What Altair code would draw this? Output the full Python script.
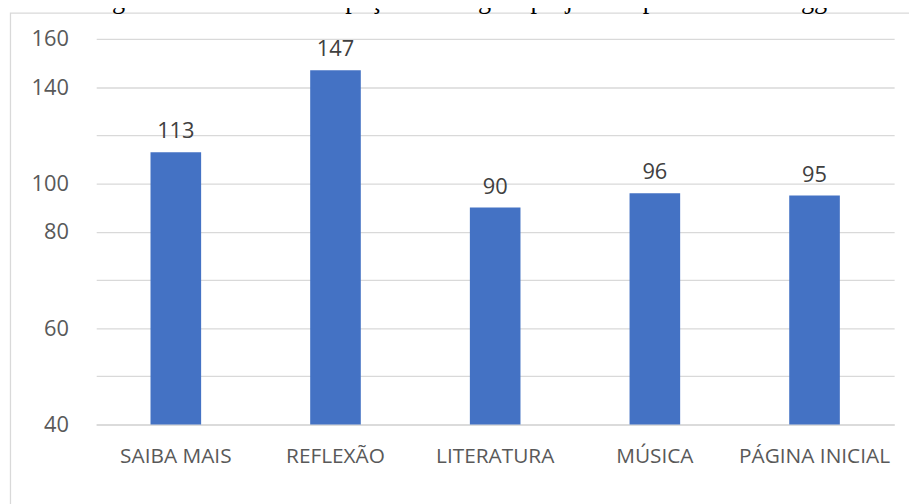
import altair as alt
import pandas as pd

categories = ["SAIBA MAIS", "REFLEXÃO", "LITERATURA", "MÚSICA", "PÁGINA INICIAL"]
values = [113, 147, 90, 96, 95]
tick_values = [0, 20, 40, 60, 80, 100, 120, 140, 160]
tick_labels = ["40", "", "60", "", "80", "100", "", "140", "160"]
title_text = "Figura 5 – Visitas aos espaços do blog do projeto na plataforma Blogger."

df = pd.DataFrame({"cat": categories, "val": values})

label_expr = " : ".join(
    f"datum.value == {v} ? '{l}'" for v, l in zip(tick_values, tick_labels)
) + " : ''"

W, H = 805, 389
FONT = "Open Sans"

x_enc = alt.X(
    "cat:N", sort=None, title=None,
    scale=alt.Scale(paddingInner=0.683, paddingOuter=0.34),
    axis=alt.Axis(labelAngle=0, labelFont=FONT, labelFontSize=21, labelColor="#595959",
                  ticks=False, tickSize=0, domain=True, domainColor="#D9D9D9", domainWidth=1.3,
                  labelBaseline="alphabetic", labelPadding=38, grid=False),
)
y_enc = alt.Y(
    "val:Q", title=None,
    scale=alt.Scale(domain=[0, 160], nice=False),
    axis=alt.Axis(values=tick_values, labelExpr=label_expr, labelFont=FONT, labelFontSize=22,
                  labelColor="#595959", ticks=False, tickSize=0, domain=False, labelPadding=28,
                  gridColor="#D9D9D9", gridWidth=1.3, labelBaseline="middle"),
)

frame = alt.Chart(pd.DataFrame({"k": [0]})).mark_rect(
    filled=False, stroke="#D9D9D9", strokeWidth=1.3
).encode(x=alt.value(-86.5), x2=alt.value(830), y=alt.value(-26), y2=alt.value(480))

title = alt.Chart(pd.DataFrame({"t": [title_text]})).mark_text(
    font="Liberation Serif", fontSize=26.5, color="black", baseline="alphabetic", align="center"
).encode(text="t:N", x=alt.value(378.5), y=alt.value(-31))

bars = alt.Chart(df).mark_bar(color="#4472C4").encode(x=x_enc, y=y_enc)
labels = alt.Chart(df).mark_text(
    font=FONT, fontSize=22, color="#404040", baseline="alphabetic", dy=-14
).encode(x=alt.X("cat:N", sort=None), y="val:Q", text="val:Q")

chart = alt.layer(frame, title, bars, labels).properties(
    width=W, height=H,
    autosize=alt.AutoSizeParams(type="none"),
    padding={"left": 89, "top": 29, "right": 15, "bottom": 78},
).configure_view(stroke=None)

chart.save("out.html", embed_options={"renderer": "svg", "actions": False})
